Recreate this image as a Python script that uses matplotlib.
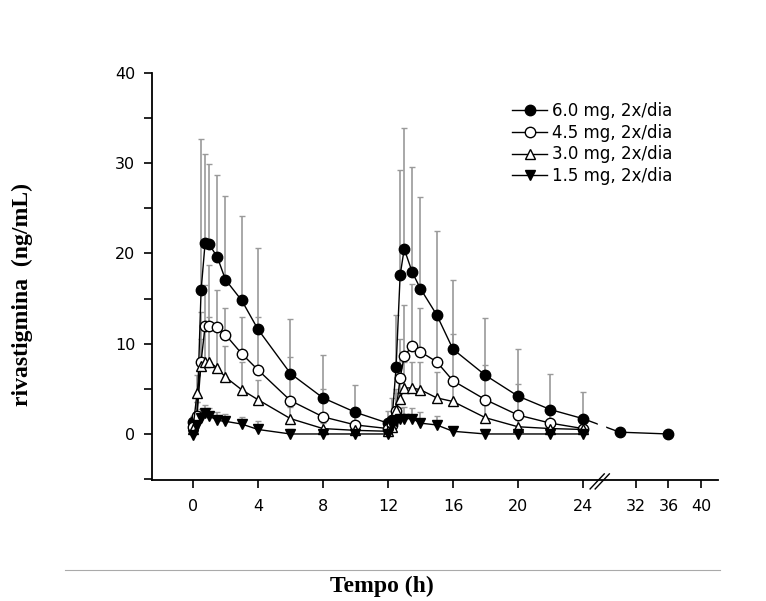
import numpy as np
import matplotlib
matplotlib.use("Agg")
import matplotlib.pyplot as plt
from matplotlib.lines import Line2D
from matplotlib.ticker import MultipleLocator

# sampling times (h)
t = [0, 0.25, 0.5, 0.75, 1, 1.5, 2, 3, 4, 6, 8, 10, 12,
     12.25, 12.5, 12.75, 13, 13.5, 14, 15, 16, 18, 20, 22, 24]
t_extra = [30, 36]  # only the 6.0 mg group

# mean concentrations (ng/mL)
c60 = [1.3, 1.8, 15.9, 21.2, 21.0, 19.6, 17.1, 14.8, 11.6, 6.7, 4.0, 2.4, 1.2,
       1.6, 7.4, 17.6, 20.5, 17.9, 16.1, 13.2, 9.4, 6.5, 4.2, 2.7, 1.7]
c60_extra = [0.2, 0.0]
c45 = [0.8, 2.0, 8.0, 12.0, 12.0, 11.8, 11.0, 8.9, 7.1, 3.7, 1.9, 1.0, 0.6,
       1.0, 2.6, 6.2, 8.6, 9.8, 9.1, 8.0, 5.9, 3.8, 2.1, 1.2, 0.6]
c30 = [0.6, 4.5, 7.5, 8.0, 8.0, 7.3, 6.3, 4.9, 3.8, 1.7, 0.6, 0.4, 0.3,
       0.8, 2.7, 3.9, 5.1, 5.1, 4.9, 4.0, 3.6, 1.8, 0.8, 0.6, 0.5]
c15 = [-0.1, 1.0, 1.8, 2.3, 2.0, 1.5, 1.4, 1.1, 0.5, 0.0, 0.0, 0.0, 0.0,
       1.0, 1.4, 1.7, 1.7, 1.7, 1.2, 1.0, 0.3, 0.0, 0.0, 0.0, 0.0]

# top of the SD bars (mean + SD)
top60 = [2.0, 3.5, 32.7, 31.0, 29.9, 28.7, 26.4, 24.1, 20.6, 12.7, 8.7, 5.4, 2.5,
         4.0, 13.2, 29.2, 33.9, 29.6, 26.3, 22.5, 17.1, 12.8, 9.4, 6.6, 4.6]
top45 = [1.5, 3.5, 13.5, 16.5, 18.7, 15.9, 14.0, 13.0, 13.0, 8.5, 5.0, 2.5, 1.4,
         2.0, 5.0, 10.5, 14.3, 16.6, 14.0, 13.0, 11.1, 7.6, 5.5, 3.0, 1.5]
top30 = [1.2, 6.5, 10.5, 11.5, 13.0, 11.8, 9.7, 8.0, 6.0, 3.0, 1.2, 0.8, 0.6,
         1.5, 4.5, 6.5, 8.0, 8.0, 8.0, 6.9, 6.0, 3.2, 1.5, 1.2, 1.0]
top15 = [0.5, 2.0, 2.8, 3.2, 2.9, 2.4, 2.2, 1.9, 1.4, 0.5, 0.4, 0.3, 0.3,
         2.0, 2.6, 2.9, 3.0, 2.9, 2.4, 2.0, 0.8, 0.4, 0.3, 0.3, 0.3]

labels = ["6.0 mg, 2x/dia", "4.5 mg, 2x/dia", "3.0 mg, 2x/dia", "1.5 mg, 2x/dia"]
xticks = [0, 4, 8, 12, 16, 20, 24, 32, 36, 40]
yticks = [0, 10, 20, 30, 40]


# broken time axis: compressed after 24 h
def fwd(x):
    x = np.asarray(x, dtype=float)
    return np.where(x <= 24, x,
                    np.where(x <= 28, 24 + (x - 24) * 0.315, 25.26 + (x - 28) * 0.5))


def inv(x):
    x = np.asarray(x, dtype=float)
    return np.where(x <= 24, x,
                    np.where(x <= 25.26, 24 + (x - 24) / 0.315, 28 + (x - 25.26) / 0.5))


fig = plt.figure(figsize=(7.66, 6.01), dpi=100)
ax = fig.add_axes([152 / 766, 1 - 480 / 601, 566 / 766, 407 / 601])
ax.set_xscale('function', functions=(fwd, inv))

series = [
    (t + t_extra, c60 + c60_extra, top60 + c60_extra, 'o', 'black'),
    (t, c45, top45, 'o', 'white'),
    (t, c30, top30, '^', 'white'),
    (t, c15, top15, 'v', 'black'),
]

# SD bars first, grey, upper side only
for x, y, top, m, fc in series:
    up = np.array(top) - np.array(y)
    ax.errorbar(x, y, yerr=[np.zeros(len(y)), up], fmt='none', ecolor='#9a9a9a',
                elinewidth=1.2, capsize=2.5, capthick=1.0, zorder=1)

for (x, y, top, m, fc), lab in zip(series, labels):
    ax.plot(x, y, color='black', lw=1.0, marker=m, ms=7.5, mfc=fc, mec='black',
            mew=1.0, label=lab, zorder=3)

# gap in the 6 mg line at the axis break
ax.axvspan(26.9, 28.2, ymin=0.10, ymax=0.17, color='white', zorder=4)

ax.set_xlim(-2.52, 42.1)
ax.set_ylim(-5.1, 40)
ax.set_xticks(xticks)
ax.set_xticklabels([str(v) for v in xticks])
ax.set_yticks(yticks)
ax.yaxis.set_minor_locator(MultipleLocator(5))

for s in ['top', 'right']:
    ax.spines[s].set_visible(False)
for s in ['left', 'bottom']:
    ax.spines[s].set_linewidth(1.3)
ax.tick_params(axis='both', which='both', direction='out', width=1.2, length=6,
               labelsize=11.5, colors='black')
ax.tick_params(axis='x', pad=8)
ax.tick_params(axis='y', pad=6)

# break marks on the x axis
for dx in [0.0, 0.009]:
    ax.plot([0.774 + dx, 0.799 + dx], [-0.022, 0.015], transform=ax.transAxes,
            color='black', lw=1.0, clip_on=False, zorder=5)

leg = ax.legend(loc='upper left', bbox_to_anchor=(0.625, 0.945), frameon=False,
                fontsize=12, handlelength=2.05, handletextpad=0.3,
                labelspacing=0.22, borderaxespad=0)

fig.text(22 / 766, 1 - 295 / 601, 'rivastigmina  (ng/mL)', rotation=90,
         ha='center', va='center', fontsize=17, fontweight='bold',
         family='Liberation Serif')
fig.text(382 / 766, 1 - 586 / 601, 'Tempo (h)', ha='center', va='center',
         fontsize=17, fontweight='bold', family='Liberation Serif')
fig.add_artist(Line2D([65 / 766, 720 / 766], [1 - 570 / 601, 1 - 570 / 601],
                      transform=fig.transFigure, color='#aaaaaa', lw=0.8))

fig.savefig('out.png', dpi=100)
